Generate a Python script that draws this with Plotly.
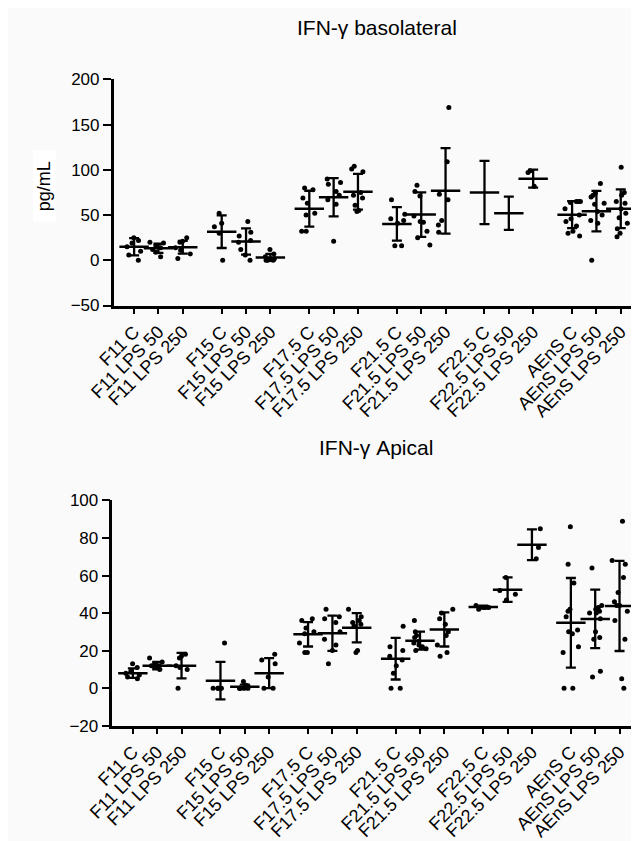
import plotly.graph_objects as go

categories = [
    "F11 C", "F11 LPS 50", "F11 LPS 250",
    "F15 C", "F15 LPS 50", "F15 LPS 250",
    "F17.5 C", "F17.5 LPS 50", "F17.5 LPS 250",
    "F21.5 C", "F21.5 LPS 50", "F21.5 LPS 250",
    "F22.5 C", "F22.5 LPS 50", "F22.5 LPS 250",
    "AEnS C", "AEnS LPS 50", "AEnS LPS 250",
]

# IFN-gamma basolateral (pg/mL)
baso_points = [
    [25, 22, 19, 15, 10, 6, 0],
    [20, 19, 16, 14, 12, 9, 4],
    [25, 21, 20, 14, 11, 7, 2],
    [52, 41, 37, 30, 0],
    [43, 31, 27, 22, 20, 12, 6, 0],
    [12, 7, 4, 2, 1, 0, 0, 0],
    [80, 78, 69, 63, 52, 50, 32, 32],
    [90, 86, 84, 76, 72, 67, 62, 21],
    [104, 101, 98, 75, 72, 69, 61, 55, 54],
    [67, 51, 46, 44, 41, 16, 16],
    [83, 76, 71, 49, 43, 42, 32, 25, 17],
    [169, 109, 73, 67, 44, 39, 31],
    [],
    [],
    [99, 97, 82],
    [65, 65, 65, 64, 57, 50, 46, 43, 38, 32, 30, 27],
    [85, 74, 72, 70, 63, 62, 54, 50, 44, 41, 0],
    [103, 75, 72, 65, 63, 57, 52, 47, 41, 35, 30, 26],
]
baso_mean = [15, 13.3, 14.5, 31.6, 20.8, 3.2, 57.1, 69.7, 75.8, 40.2, 50.6, 76.8,
             75, 52, 90.3, 50.5, 54.3, 57]
baso_sd = [9.5, 5, 7, 18, 14.5, 3.8, 19.8, 21.2, 19.8, 18.5, 24.6, 47.2,
           34.9, 18.3, 10, 15, 22.4, 21.5]

# IFN-gamma apical (pg/mL)
apical_points = [
    [13, 11, 9, 8, 7, 6, 5],
    [16, 14, 13, 12, 12, 11, 10],
    [18, 17, 16, 12, 11, 10, 0],
    [24, 0, 0, 0, 0, 0],
    [3.5, 1.5, 1, 0, 0, 0, 0, 0],
    [18, 15, 13, 6, 0, 0],
    [37, 36, 32, 30, 29, 24, 19, 19],
    [42, 38, 37, 35, 30, 26, 23, 20, 13],
    [42, 38, 36, 35, 34, 33, 20, 19],
    [33, 22, 20, 17, 15, 12, 8, 0, 0],
    [36, 30, 28, 27, 25, 24, 23, 22, 21, 20],
    [42, 40, 37, 34, 30, 28, 23, 19, 17],
    [44, 43, 43, 42],
    [59, 52, 50, 47],
    [85, 75, 69],
    [86, 66, 56, 42, 41, 38, 31, 30, 29, 22, 19, 0, 0],
    [64, 44, 43, 42, 41, 40, 40, 37, 30, 27, 26, 9, 6],
    [89, 68, 66, 59, 51, 46, 44, 44, 41, 36, 26, 5, 0],
]
apical_mean = [8, 12, 12, 4, 0.7, 8, 28.7, 29.3, 32.2, 15.7, 25.3, 31.3,
               43.2, 52.5, 76.4, 34.8, 36.9, 43.8]
apical_sd = [2.5, 2, 6.8, 10, 1.2, 8, 6.5, 9.4, 7.8, 11.1, 4.8, 9.1,
             0.8, 6.5, 8.2, 23.9, 15.6, 24]

baso_ticks = [-50, 0, 50, 100, 150, 200]
apical_ticks = [-20, 0, 20, 40, 60, 80, 100]

# x positions: 3 columns per group, with a gap between groups
positions = [g * 3.6 + i for g in range(6) for i in range(3)]

FONT = "Liberation Sans, Arial, sans-serif"
fig = go.Figure()


def add_panel(points, means, sds, xa, ya):
    xs, ys = [], []
    for p, pts in zip(positions, points):
        xs += [p] * len(pts)
        ys += pts
    fig.add_trace(go.Box(
        x=xs, y=ys, xaxis=xa, yaxis=ya,
        boxpoints="all", jitter=0.9, pointpos=0, width=0.8,
        marker=dict(color="black", size=5),
        line=dict(width=0, color="rgba(0,0,0,0)"),
        fillcolor="rgba(0,0,0,0)", showlegend=False,
    ))
    fig.add_trace(go.Scatter(
        x=positions, y=means, xaxis=xa, yaxis=ya, mode="markers",
        marker=dict(symbol="line-ew", size=21, color="black",
                    line=dict(width=2.5, color="black")),
        error_y=dict(type="data", array=sds, visible=True, color="black",
                     thickness=2.3, width=5),
        showlegend=False,
    ))


add_panel(baso_points, baso_mean, baso_sd, "x", "y")
add_panel(apical_points, apical_mean, apical_sd, "x2", "y2")

# page body has an 8px margin; figure coordinates are page coordinates minus 8
OFF = 8
W = 631.0
H = 833.0


def px(x):
    return (x - OFF) / W


def py(y):
    return 1 - (y - OFF) / H


xrange = [-0.84, 20.75]

base_axis = dict(
    showline=True, linecolor="black", linewidth=2.5, mirror=False,
    ticks="outside", tickwidth=2, tickcolor="black",
    showgrid=False, zeroline=False,
)
xfont = dict(family=FONT, size=18, color="black")
yfont = dict(family=FONT, size=17, color="black")

fig.update_layout(
    width=int(W), height=int(H),
    margin=dict(l=0, r=0, t=0, b=0),
    paper_bgcolor="#fafafa", plot_bgcolor="rgba(0,0,0,0)",
    boxmode="overlay",
    xaxis=dict(domain=[px(92), 1.0], range=xrange, anchor="y",
               tickvals=positions, ticktext=categories, tickangle=-45,
               ticklen=6, tickfont=xfont, **base_axis),
    yaxis=dict(domain=[py(304), py(72)], range=[-50, 200], anchor="x",
               tickvals=baso_ticks, ticklen=8, tickfont=yfont, **base_axis),
    xaxis2=dict(domain=[px(90.7), 0.998], range=xrange, anchor="y2",
                tickvals=positions, ticktext=categories, tickangle=-45,
                ticklen=6, tickfont=xfont, **base_axis),
    yaxis2=dict(domain=[py(735), py(504)], range=[-20, 100], anchor="x2",
                tickvals=apical_ticks, ticklen=8, tickfont=yfont, **base_axis),
    shapes=[
        dict(type="rect", xref="paper", yref="paper", x0=px(8), x1=px(32),
             y0=py(218), y1=py(145),
             fillcolor="white", line=dict(width=0), layer="below"),
    ],
    annotations=[
        dict(text="IFN-γ basolateral", x=px(366), y=py(19), xref="paper", yref="paper",
             showarrow=False, xanchor="center", yanchor="middle",
             font=dict(family=FONT, size=21, color="black")),
        dict(text="IFN-γ Apical", x=px(365), y=py(450), xref="paper", yref="paper",
             showarrow=False, xanchor="center", yanchor="middle",
             font=dict(family=FONT, size=21, color="black")),
        dict(text="pg/mL", x=px(19), y=py(182), xref="paper", yref="paper",
             showarrow=False, xanchor="center", yanchor="middle", textangle=-90,
             font=dict(family=FONT, size=18, color="black")),
    ],
)

fig.write_html("out.html", config={"displayModeBar": False})
